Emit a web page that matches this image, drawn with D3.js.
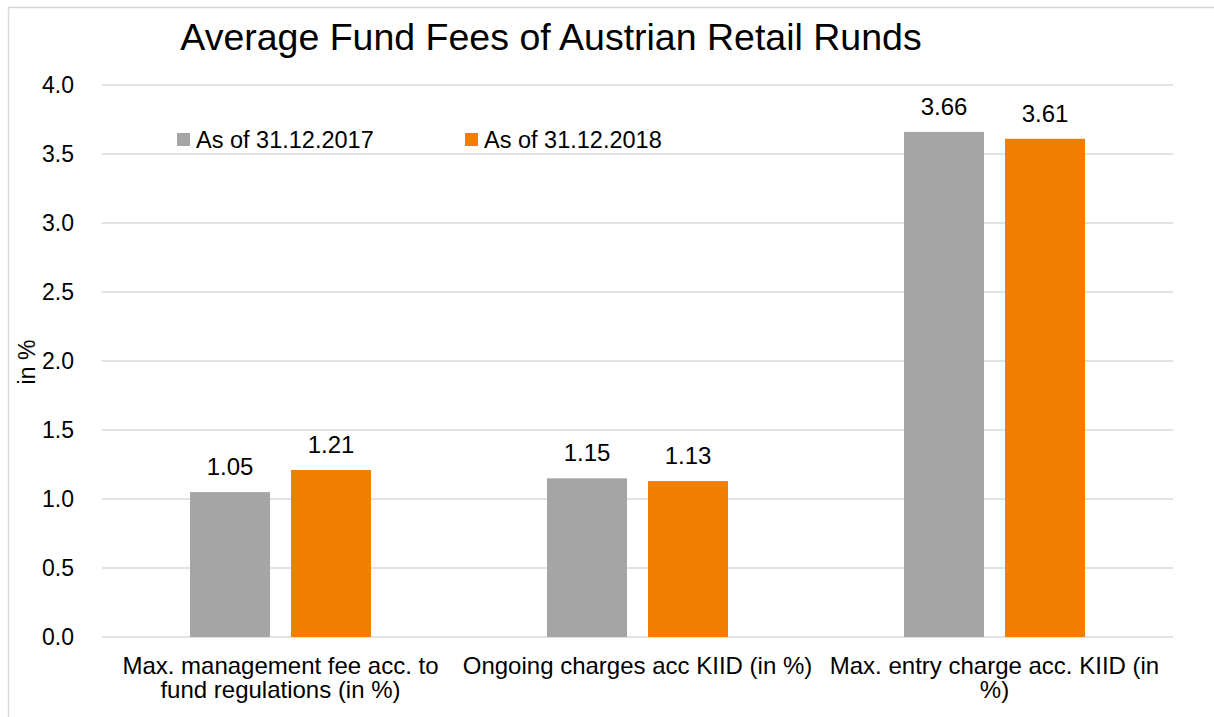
<!DOCTYPE html>
<html>
<head>
<meta charset="utf-8">
<script src="https://cdn.jsdelivr.net/npm/d3@7"></script>
<style>
  body { margin: 0; background: #fff; overflow: hidden; }
  text { font-family: "Liberation Sans", Arial, sans-serif; fill: #000; }
</style>
</head>
<body>
<script>
const width = 1214;
const height = 717;

const categories = [
  "Max. management fee acc. to\nfund regulations (in %)",
  "Ongoing charges acc KIID (in %)",
  "Max. entry charge acc. KIID (in\n%)"
];
const seriesNames = ["As of 31.12.2017", "As of 31.12.2018"];
const values2017 = [1.05, 1.15, 3.66];
const values2018 = [1.21, 1.13, 3.61];
const yTicks = [0, 0.5, 1, 1.5, 2, 2.5, 3, 3.5, 4];
const colors = ["#A5A5A5", "#F07F00"];

const margin = { top: 85, right: 41, bottom: 80, left: 102 };

const svg = d3.select("body")
  .append("svg")
  .attr("width", width)
  .attr("height", height);

// chart frame (right and bottom edges run off the picture)
svg.append("rect")
  .attr("x", 8.5)
  .attr("y", 7.5)
  .attr("width", 1230)
  .attr("height", 730)
  .attr("fill", "none")
  .attr("stroke", "#D9D9D9")
  .attr("stroke-width", 1.5);

const x = d3.scaleBand()
  .domain(categories)
  .range([margin.left, width - margin.right]);

const x1 = d3.scaleBand()
  .domain(seriesNames)
  .range([x.bandwidth() * 0.2465, x.bandwidth() * 0.7535])
  .paddingInner(0.208);

const y = d3.scaleLinear()
  .domain([0, 4])
  .range([height - margin.bottom, margin.top]);

// gridlines
svg.append("g")
  .selectAll("line")
  .data(yTicks)
  .join("line")
  .attr("x1", margin.left)
  .attr("x2", width - margin.right)
  .attr("y1", d => y(d))
  .attr("y2", d => y(d))
  .attr("stroke", "#D9D9D9")
  .attr("stroke-width", 1.3);

// y axis labels
const yAxis = svg.append("g")
  .attr("transform", `translate(${margin.left},0)`)
  .call(d3.axisLeft(y).tickValues(yTicks).tickFormat(d3.format(".1f")).tickSize(0).tickPadding(28));
yAxis.select(".domain").remove();
yAxis.selectAll("text")
  .style("font-family", "Liberation Sans, Arial, sans-serif")
  .style("font-size", "23px")
  .attr("fill", "#000");

svg.append("text")
  .attr("transform", `translate(35,${y(2) + 1}) rotate(-90)`)
  .attr("text-anchor", "middle")
  .style("font-size", "23px")
  .text("in %");

// bars
const series = [values2017, values2018];
const groups = svg.append("g")
  .selectAll("g")
  .data(categories)
  .join("g")
  .attr("transform", d => `translate(${x(d)},0)`);

groups.selectAll("rect")
  .data((d, i) => seriesNames.map((s, j) => ({ s, v: series[j][i], j })))
  .join("rect")
  .attr("x", d => x1(d.s))
  .attr("width", x1.bandwidth())
  .attr("y", d => y(d.v))
  .attr("height", d => y(0) - y(d.v))
  .attr("fill", d => colors[d.j]);

groups.selectAll("text.val")
  .data((d, i) => seriesNames.map((s, j) => ({ s, v: series[j][i], j })))
  .join("text")
  .attr("class", "val")
  .attr("x", d => x1(d.s) + x1.bandwidth() / 2)
  .attr("y", d => y(d.v) - 17)
  .attr("text-anchor", "middle")
  .style("font-size", "24px")
  .text(d => d.v.toFixed(2));

// category labels
svg.append("g")
  .selectAll("text")
  .data(categories)
  .join("text")
  .attr("x", d => x(d) + x.bandwidth() / 2)
  .attr("y", 674)
  .attr("text-anchor", "middle")
  .style("font-size", "24px")
  .selectAll("tspan")
  .data(d => d.split("\n"))
  .join("tspan")
  .attr("x", function () { return this.parentNode.getAttribute("x"); })
  .attr("dy", (d, i) => i === 0 ? 0 : 24)
  .text(d => d);

// title
svg.append("text")
  .attr("x", 551)
  .attr("y", 50)
  .attr("text-anchor", "middle")
  .style("font-size", "37.5px")
  .text("Average Fund Fees of Austrian Retail Runds");

// legend
const legendX = [177, 465];
const legend = svg.append("g")
  .selectAll("g")
  .data(seriesNames)
  .join("g")
  .attr("transform", (d, i) => `translate(${legendX[i]},133)`);

legend.append("rect")
  .attr("width", 13)
  .attr("height", 13)
  .attr("fill", (d, i) => colors[i]);

legend.append("text")
  .attr("x", 19)
  .attr("y", 15)
  .style("font-size", "23.5px")
  .text(d => d);
</script>
</body>
</html>
